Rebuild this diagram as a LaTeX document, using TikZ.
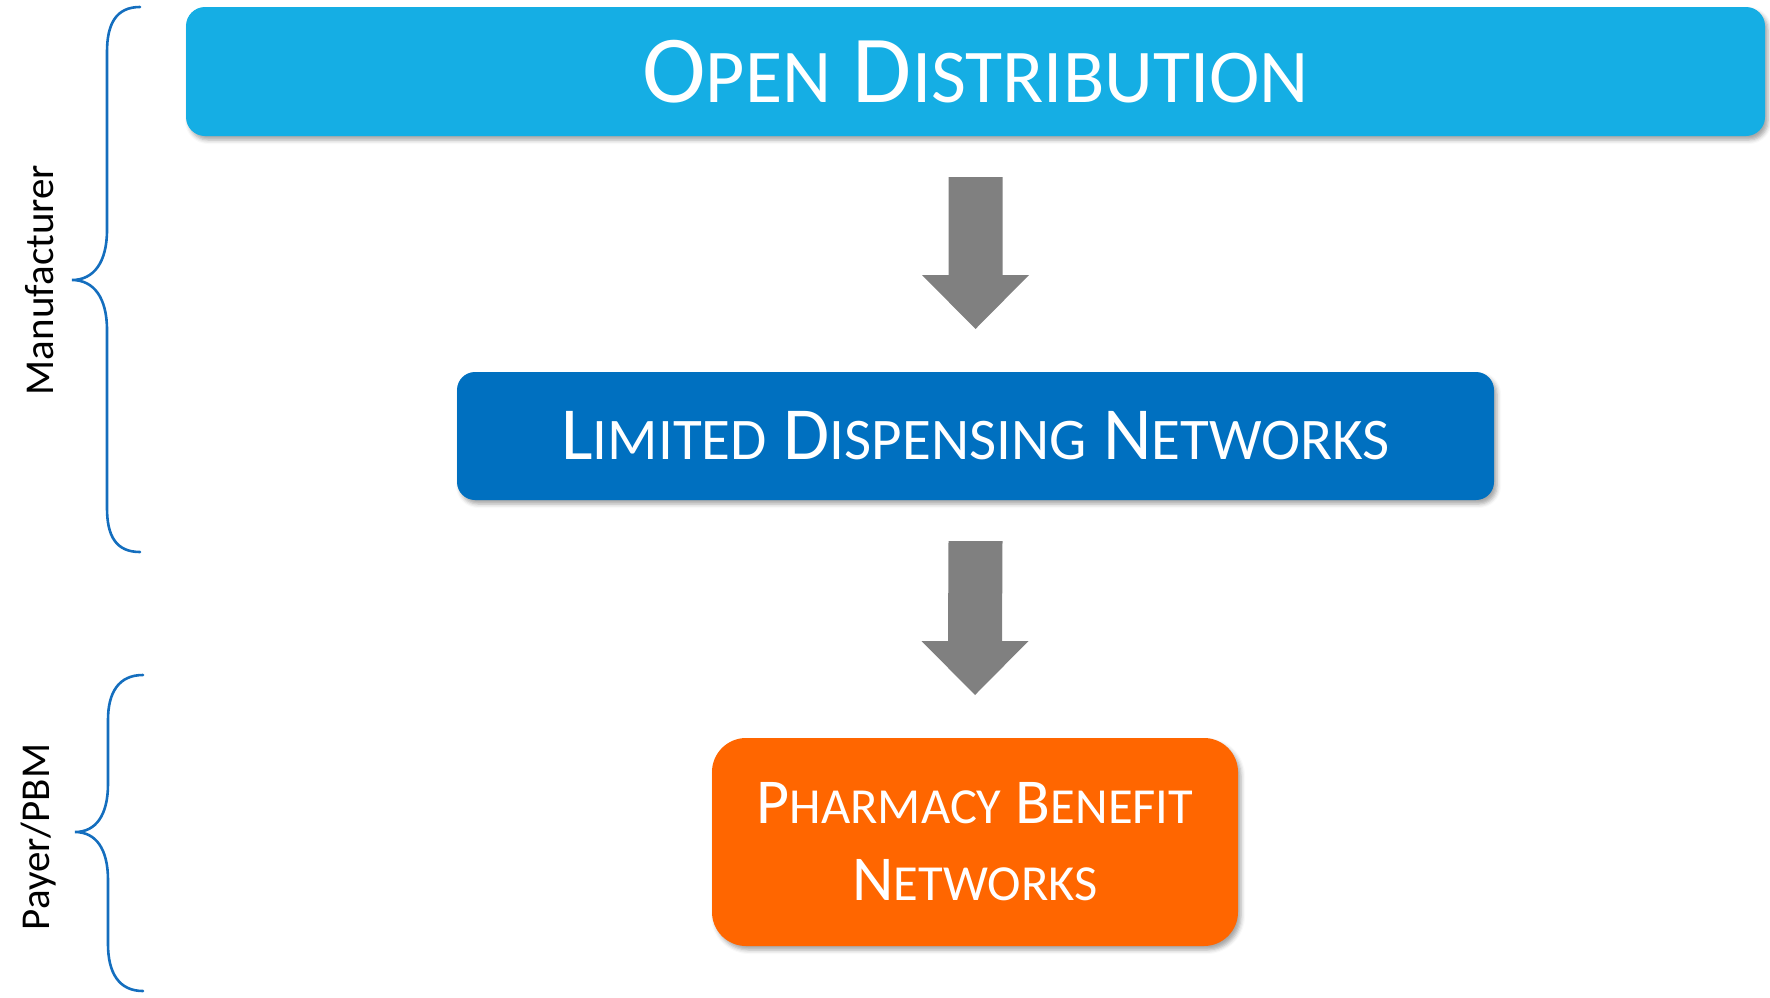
\documentclass[tikz,border=0pt]{standalone}
\usepackage{fontspec}
\setmainfont{Carlito}
\usetikzlibrary{calc,shadows.blur}

\definecolor{openblue}{RGB}{21,174,228}
\definecolor{ldnblue}{RGB}{0,112,192}
\definecolor{pbnorange}{RGB}{255,102,0}
\definecolor{arrowgray}{RGB}{128,128,128}
\definecolor{bracecol}{RGB}{20,110,190}

% small capitals drawn at a reduced size
\newcommand\scx[2]{{\fontsize{#1}{77pt}\selectfont #2}}

% grey block arrow from the bottom of one box to the top of the next
\newcommand\flowarrow[2]{%
  \fill[arrowgray]
    ($(#1.south)+(-27,41)$) -- ($(#1.south)+(27,41)$) --
    ($(#2.north)+(27,-97)$) -- ($(#2.north)+(53.5,-97)$) --
    ($(#2.north)+(0,-43)$) --
    ($(#2.north)+(-53.5,-97)$) -- ($(#2.north)+(-27,-97)$) -- cycle;}

\tikzset{
  stage/.style={inner sep=0pt, outer sep=0pt, text=white, align=center,
    blur shadow={shadow xshift=3pt, shadow yshift=-4pt,
      shadow blur radius=4pt, shadow opacity=35}},
  bracket/.style={draw=bracecol, line width=2.6pt, line cap=round},
  sidelabel/.style={rotate=90, font=\fontsize{41pt}{49pt}\selectfont, inner sep=0pt}
}

\begin{document}
\begin{tikzpicture}[x=1pt, y=-1pt]
  \useasboundingbox (0,0) rectangle (1770,997);

  % stages
  \node[stage, fill=openblue, rounded corners=19pt,
        minimum width=1579pt, minimum height=129pt,
        font=\fontsize{96pt}{110pt}\selectfont] (open) at (975.5,71.5)
        {O\scx{76pt}{PEN} D\scx{76pt}{ISTRIBUTION}};

  \node[stage, fill=ldnblue, rounded corners=18pt,
        minimum width=1037pt, minimum height=128pt,
        font=\fontsize{75pt}{90pt}\selectfont] (ldn) at (975.5,436)
        {L\scx{59pt}{IMITED} D\scx{59pt}{ISPENSING} N\scx{59pt}{ETWORKS}};

  \node[stage, fill=pbnorange, rounded corners=34pt,
        minimum width=526pt, minimum height=208pt,
        font=\fontsize{64pt}{77pt}\selectfont] (pbn) at (975,842)
        {P\scx{50.5pt}{HARMACY} B\scx{50.5pt}{ENEFIT}\\N\scx{50.5pt}{ETWORKS}};

  % arrows between stages
  \flowarrow{open}{ldn}
  \flowarrow{ldn}{pbn}

  % braces
  \draw[bracket] (140,7) .. controls (116,7) and (107,24) .. (107,52)
    -- (107,230) .. controls (107,262) and (94,280) .. (72,280)
    .. controls (94,280) and (107,298) .. (107,330)
    -- (107,508) .. controls (107,536) and (116,552) .. (140,552);

  \draw[bracket] (143,675) .. controls (119,675) and (108,692) .. (108,720)
    -- (108,784) .. controls (108,815) and (96,832) .. (75,832)
    .. controls (96,832) and (108,849) .. (108,880)
    -- (108,944) .. controls (108,973) and (119,991) .. (143,991);

  % brace labels
  \node[sidelabel] (maker) at (40,280) {Manufacturer};
  \node[sidelabel] (payer) at (39,837) {Payer/PBM};
\end{tikzpicture}
\end{document}
